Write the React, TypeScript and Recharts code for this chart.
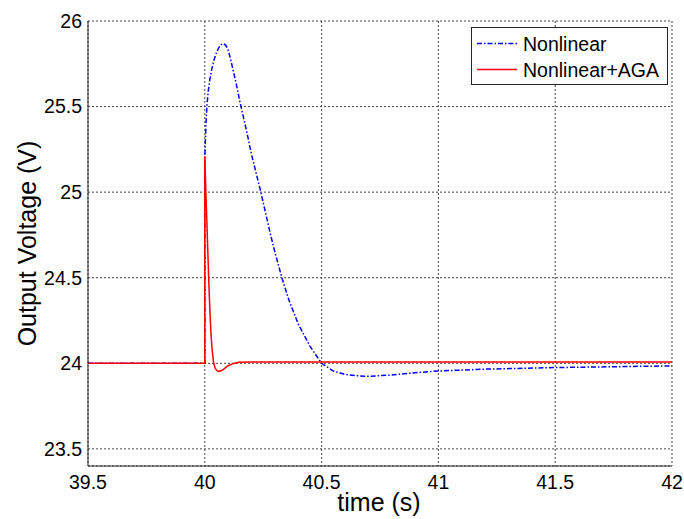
import { LineChart, Line, XAxis, YAxis, CartesianGrid, Legend } from "recharts";

const FONT = '"Liberation Sans", Arial, sans-serif';

const X_TICKS = [39.5, 40, 40.5, 41, 41.5, 42];
const Y_TICKS = [23.5, 24, 24.5, 25, 25.5, 26];

// Nonlinear (blue dash-dot)
const nonlinearT = [
  39.5, 40, 40, 40.005, 40.01, 40.015, 40.02, 40.03, 40.04, 40.05, 40.06, 40.07, 40.08, 40.09,
  40.1, 40.11, 40.12, 40.135, 40.15, 40.165, 40.18, 40.2, 40.22, 40.24, 40.26, 40.28, 40.3,
  40.33, 40.36, 40.4, 40.45, 40.5, 40.55, 40.6, 40.65, 40.7, 40.8, 40.9, 41, 41.2, 41.5, 41.8, 42,
];
const nonlinearV = [
  24, 24, 25.2, 25.4, 25.52, 25.59, 25.645, 25.72, 25.775, 25.815, 25.845, 25.862, 25.868, 25.858,
  25.83, 25.78, 25.72, 25.63, 25.53, 25.44, 25.35, 25.22, 25.11, 25.0, 24.88, 24.76, 24.65,
  24.5, 24.37, 24.23, 24.1, 24.0, 23.955, 23.935, 23.927, 23.924, 23.932, 23.945, 23.955, 23.966,
  23.975, 23.981, 23.985,
];

// Nonlinear+AGA (red solid)
const agaT = [
  39.5, 40, 40, 40.002, 40.005, 40.009, 40.013, 40.017, 40.022, 40.027, 40.032, 40.038, 40.045,
  40.052, 40.06, 40.07, 40.08, 40.09, 40.1, 40.12, 40.145, 40.2, 42,
];
const agaV = [
  24, 24, 25.21, 25.12, 24.98, 24.82, 24.65, 24.48, 24.3, 24.16, 24.07, 24.0, 23.97,
  23.957, 23.953, 23.956, 23.965, 23.976, 23.986, 23.998, 24.006, 24.008, 24.008,
];

const nonlinearData = nonlinearT.map((t, i) => ({ t, v: nonlinearV[i] }));
const agaData = agaT.map((t, i) => ({ t, v: agaV[i] }));

const BLUE_DASH = "5 2 1.5 2";

function LegendBox() {
  return (
    <svg width={197} height={58} style={{ display: "block" }}>
      <rect x={0.5} y={0.5} width={196} height={57} fill="#fff" stroke="#262626" />
      <line x1={6} x2={46} y1={16.5} y2={16.5} stroke="#0000ff" strokeWidth={1.5} strokeDasharray={BLUE_DASH} />
      <text x={52} y={16.5} dominantBaseline="central" fontSize={19.5} fontFamily={FONT} fill="#000">
        Nonlinear
      </text>
      <line x1={6} x2={46} y1={42.5} y2={42.5} stroke="#ff0000" strokeWidth={1.5} />
      <text x={52} y={42.5} dominantBaseline="central" fontSize={19.5} fontFamily={FONT} fill="#000">
        Nonlinear+AGA
      </text>
    </svg>
  );
}

const renderYLabel = () => (
  <text
    x={27}
    y={243.5}
    transform="rotate(-90 27 243.5)"
    textAnchor="middle"
    dominantBaseline="central"
    fontSize={25}
    fontFamily={FONT}
    fill="#000"
  >
    Output Voltage (V)
  </text>
);

const renderXLabel = () => (
  <text x={379} y={511} textAnchor="middle" fontSize={25} fontFamily={FONT} fill="#000">
    time (s)
  </text>
);

export default function App() {
  return (
    <div style={{ position: "absolute", left: 0, top: 0, background: "#fff" }}>
      <LineChart width={684} height={519} margin={{ top: 21, right: 12, bottom: 0, left: 0 }}>
        <CartesianGrid stroke="#444" strokeDasharray="2 2" />
        <XAxis
          dataKey="t"
          type="number"
          domain={[39.5, 42]}
          ticks={X_TICKS}
          allowDataOverflow
          height={53}
          tickSize={0}
          tickMargin={9}
          tick={{ fill: "#000", fontSize: 19.5, fontFamily: FONT }}
          axisLine={{ stroke: "#262626" }}
          label={renderXLabel}
        />
        <XAxis
          xAxisId="top"
          orientation="top"
          type="number"
          domain={[39.5, 42]}
          height={0}
          tick={false}
          tickLine={false}
          axisLine={{ stroke: "#262626" }}
        />
        <YAxis
          type="number"
          domain={[23.4, 26]}
          ticks={Y_TICKS}
          allowDataOverflow
          width={88}
          tickSize={0}
          tickMargin={6}
          tick={{ fill: "#000", fontSize: 19.5, fontFamily: FONT }}
          axisLine={{ stroke: "#262626" }}
          label={renderYLabel}
        />
        <YAxis
          yAxisId="right"
          orientation="right"
          type="number"
          domain={[23.4, 26]}
          width={0}
          tick={false}
          tickLine={false}
          axisLine={{ stroke: "#262626" }}
        />
        <Legend
          layout="horizontal"
          verticalAlign="middle"
          align="center"
          wrapperStyle={{ position: "absolute", left: 471, top: 27, width: 197, height: 58 }}
          content={() => <LegendBox />}
        />
        <Line
          data={nonlinearData}
          dataKey="v"
          type="linear"
          stroke="#0000ff"
          strokeWidth={1.5}
          strokeDasharray={BLUE_DASH}
          dot={false}
          isAnimationActive={false}
        />
        <Line
          data={agaData}
          dataKey="v"
          type="linear"
          stroke="#ff0000"
          strokeWidth={1.5}
          dot={false}
          isAnimationActive={false}
        />
      </LineChart>
    </div>
  );
}
